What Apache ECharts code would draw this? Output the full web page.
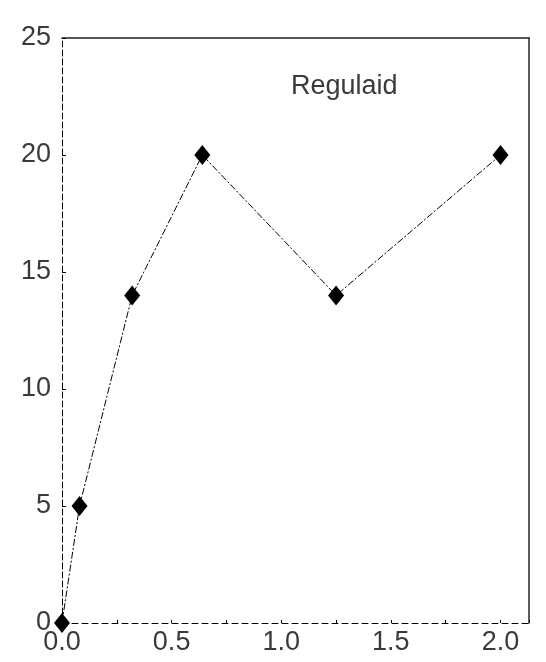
<!DOCTYPE html>
<html>
<head>
<meta charset="utf-8">
<script src="https://cdn.jsdelivr.net/npm/echarts@6/dist/echarts.min.js"></script>
<style>html,body{margin:0;padding:0;background:#fff;}#c{width:546px;height:662px;}</style>
</head>
<body>
<div id="c"></div>
<script>
const xValues = [0, 0.08, 0.32, 0.64, 1.25, 2.0];
const yValues = [0, 5, 14, 20, 14, 20];
const title = "Regulaid";
const xTicks = [0, 0.5, 1.0, 1.5, 2.0];
const yTicks = [0, 5, 10, 15, 20, 25];

const chart = echarts.init(document.getElementById('c'));
const labelFont = {color: '#3a3a3a', fontFamily: 'Liberation Sans', fontSize: 27, fontWeight: 'normal'};
chart.setOption({
  animation: false,
  backgroundColor: '#fff',
  title: {text: title, left: 286, top: 68, textStyle: {color: '#3a3a3a', fontFamily: 'Liberation Sans', fontSize: 27, fontWeight: 'normal'}},
  grid: {left: 62, right: 17, top: 38, bottom: 39, show: false},
  xAxis: [{
    type: 'value', min: 0, max: 2.13, interval: 0.25, position: 'bottom',
    axisLine: {show: true, onZero: false, lineStyle: {color: '#000', width: 1, type: [6, 4]}},
    axisTick: {show: true, inside: true, length: 3, lineStyle: {color: '#000'}},
    splitLine: {show: false},
    axisLabel: Object.assign({margin: 6, formatter: v => xTicks.includes(v) ? v.toFixed(1) : ''}, labelFont)
  }, {
    type: 'value', min: 0, max: 2.13, position: 'top',
    axisLine: {show: true, onZero: false, lineStyle: {color: '#222', width: 1.5}},
    axisTick: {show: false}, axisLabel: {show: false}, splitLine: {show: false}
  }],
  yAxis: [{
    type: 'value', min: 0, max: 25, interval: 5, position: 'left',
    axisLine: {show: true, onZero: false, lineStyle: {color: '#000', width: 1, type: [6, 3]}},
    axisTick: {show: true, inside: true, length: 4, lineStyle: {color: '#000'}},
    splitLine: {show: false},
    axisLabel: Object.assign({margin: 11, formatter: v => yTicks.includes(v) ? String(v) : ''}, labelFont)
  }, {
    type: 'value', min: 0, max: 25, position: 'right',
    axisLine: {show: true, onZero: false, lineStyle: {color: '#222', width: 1.5}},
    axisTick: {show: false}, axisLabel: {show: false}, splitLine: {show: false}
  }],
  series: [{
    type: 'line',
    data: xValues.map((x, i) => [x, yValues[i]]),
    symbol: 'diamond', symbolSize: [16, 20],
    itemStyle: {color: '#000'},
    lineStyle: {color: '#000', width: 1, type: [7, 2, 2, 2]},
    clip: false
  }]
});
</script>
</body>
</html>
